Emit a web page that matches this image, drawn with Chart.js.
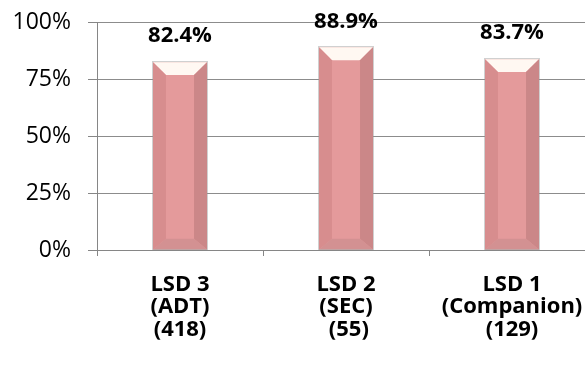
<!DOCTYPE html>
<html>
<head>
<meta charset="utf-8">
<script src="https://cdn.jsdelivr.net/npm/chart.js@4.4.0/dist/chart.umd.min.js"></script>
<style>
  html, body { margin: 0; padding: 0; background: #fff; overflow: hidden; }
  #wrap { position: relative; width: 620px; height: 367px; }
</style>
</head>
<body>
<div id="wrap"><canvas id="c"></canvas></div>
<script>
const categories = [
  ["LSD 3", "(ADT)", "(418)"],
  ["LSD 2", "(SEC)", " (55)"],
  ["LSD 1", "(Companion)", "(129)"]
];
const values = [82.4, 88.9, 83.7];
const valueLabels = ["82.4%", "88.9%", "83.7%"];
const yTicks = [0, 25, 50, 75, 100];

const FONT = "'Open Sans', 'Liberation Sans', sans-serif";

const bevelPlugin = {
  id: 'bevel',
  afterDatasetsDraw(chart) {
    const ctx = chart.ctx;
    const meta = chart.getDatasetMeta(0);
    meta.data.forEach((bar) => {
      const p = bar.getProps(['x', 'y', 'base', 'width'], true);
      const L = p.x - p.width / 2, R = p.x + p.width / 2;
      const T = p.y, B = p.base;
      const bx = p.width * 0.24, byT = p.width * 0.24, byB = p.width * 0.2;
      ctx.save();
      ctx.fillStyle = '#FFF8F2';
      ctx.beginPath();
      ctx.moveTo(L, T); ctx.lineTo(R, T); ctx.lineTo(R - bx, T + byT); ctx.lineTo(L + bx, T + byT); ctx.closePath(); ctx.fill();
      ctx.fillStyle = '#D78D8E';
      ctx.beginPath();
      ctx.moveTo(L, T); ctx.lineTo(L + bx, T + byT); ctx.lineTo(L + bx, B - byB); ctx.lineTo(L, B); ctx.closePath(); ctx.fill();
      ctx.fillStyle = '#CB8788';
      ctx.beginPath();
      ctx.moveTo(R, T); ctx.lineTo(R - bx, T + byT); ctx.lineTo(R - bx, B - byB); ctx.lineTo(R, B); ctx.closePath(); ctx.fill();
      ctx.fillStyle = '#D39192';
      ctx.beginPath();
      ctx.moveTo(L, B); ctx.lineTo(L + bx, B - byB); ctx.lineTo(R - bx, B - byB); ctx.lineTo(R, B); ctx.closePath(); ctx.fill();
      ctx.strokeStyle = 'rgba(150,150,150,0.45)';
      ctx.lineWidth = 1;
      ctx.strokeRect(Math.round(L) - 0.5, Math.round(T) - 0.5, Math.round(R - L) + 1, Math.round(B - T) + 1);
      ctx.restore();
    });
  }
};

const labelPlugin = {
  id: 'valueLabels',
  afterDraw(chart) {
    const ctx = chart.ctx;
    const meta = chart.getDatasetMeta(0);
    ctx.save();
    ctx.font = "bold 22px " + FONT;
    ctx.fillStyle = '#000';
    ctx.textAlign = 'center';
    ctx.textBaseline = 'middle';
    meta.data.forEach((bar, i) => {
      ctx.fillText(valueLabels[i], bar.x, bar.y - 26);
    });
    ctx.restore();
  }
};

new Chart(document.getElementById('c'), {
  type: 'bar',
  data: {
    labels: categories,
    datasets: [{
      data: values,
      backgroundColor: '#E49A9B',
      borderWidth: 0,
      barPercentage: 0.325,
      categoryPercentage: 1.0
    }]
  },
  options: {
    responsive: true,
    maintainAspectRatio: false,
    animation: false,
    events: [],
    layout: { padding: { top: 22, right: 25, left: 0, bottom: 0 } },
    plugins: { legend: { display: false }, tooltip: { enabled: false } },
    scales: {
      x: {
        grid: {
          offset: true, drawOnChartArea: false, tickLength: 6,
          color: '#868686', tickColor: '#868686'
        },
        border: { color: '#868686', width: 1 },
        ticks: {
          color: '#000',
          font: { family: FONT, size: 22, weight: 'bold', lineHeight: 1.03 },
          padding: 17,
          maxRotation: 0,
          autoSkip: false
        },
        afterFit(scale) { scale.height = 117; scale.paddingLeft = 0; scale.paddingRight = 0; }
      },
      y: {
        min: 0, max: 100,
        afterBuildTicks(scale) { scale.ticks = yTicks.map(v => ({ value: v })); },
        grid: { color: '#8C8C8C', tickLength: 9, tickColor: '#868686' },
        border: { color: '#868686', width: 1 },
        ticks: {
          color: '#000',
          font: { family: FONT, size: 23 },
          padding: 17,
          callback: (v) => v + '%'
        },
        afterFit(scale) { scale.width = 97; scale.paddingTop = 0; scale.paddingBottom = 0; }
      }
    }
  },
  plugins: [bevelPlugin, labelPlugin]
});
</script>
</body>
</html>
